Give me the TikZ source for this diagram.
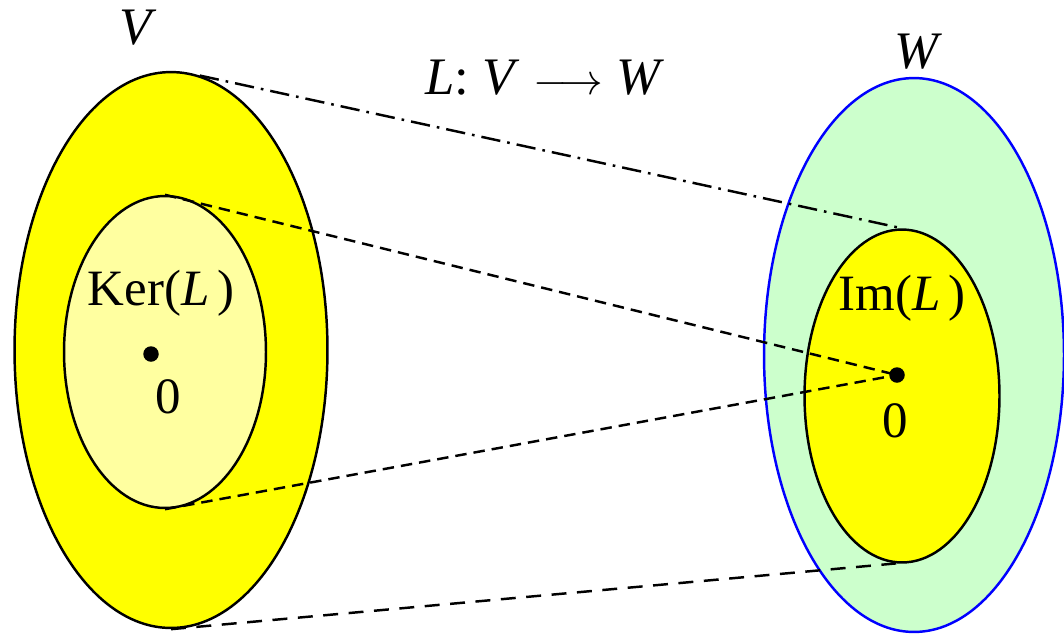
\documentclass[tikz,border=0pt]{standalone}
\usepackage{fontspec}
\setmainfont{Liberation Serif}
\usepackage{xcolor}
\usepackage{tikz}
\usetikzlibrary{shapes.geometric}

\definecolor{vfill}{RGB}{255,255,0}
\definecolor{kerfill}{RGB}{255,255,160}
\definecolor{wfill}{RGB}{204,255,204}
\definecolor{wline}{RGB}{0,0,255}

\begin{document}
\begin{tikzpicture}[
    x=0.02cm, y=-0.02cm,
    region/.style={ellipse, draw, line width=1.4pt, inner sep=0pt, fill=#1},
    region/.default=vfill,
    zero/.style={circle, fill=black, inner sep=0pt, minimum size=0.31cm},
    big/.style={font=\fontsize{30}{36}\selectfont},
    mid/.style={font=\fontsize{29}{34}\selectfont},
    mapline/.style={line width=1.4pt, dash pattern=on 11pt off 4pt on 1.5pt off 4pt},
    kerline/.style={line width=1.4pt, dash pattern=on 6.5pt off 4pt},
    edgeline/.style={line width=1.4pt, dash pattern=on 8.5pt off 6pt},
]
\useasboundingbox (0,0) rectangle (1064,633);

% --- Domain V with kernel ---
\node[region, minimum width=6.26cm, minimum height=11.12cm] (V) at (171,350) {};
\node[region=kerfill, minimum width=4.04cm, minimum height=6.24cm] (Ker) at (165,352) {};
\node[big] (Vlab) at (138,28) {\textit{V}};
\node[mid] (Kerlab) at (161,293) {Ker(\textit{L}\kern0.15em)};
\node[zero] (K0) at (151,354) {};
\node[mid] (K0lab) at (168,397) {0};

% --- Codomain W with image ---
\node[region=wfill, draw=wline, minimum width=6.0cm, minimum height=11.08cm] (W) at (914,355) {};
\node[region, minimum width=3.9cm, minimum height=6.66cm] (Im) at (902,396) {};
\node[big] (Wlab) at (918,52) {\textit{W}};
\node[mid] (Imlab) at (902,298) {Im(\textit{L}\kern0.15em)};
\node[zero] (I0) at (897,375) {};
\node[mid] (I0lab) at (895,421) {0};

% --- The map ---
\node[big] (Lmap) at (545,78) {\textit{L}: \textit{V} $\longrightarrow$ \textit{W}};
\draw[mapline] (V.84) -- (Im.north);
\draw[kerline] (Ker.north) -- (I0.center);
\draw[kerline] (Ker.south) -- (I0.center);
\draw[edgeline] (V.south) -- (Im.268);

\end{tikzpicture}
\end{document}
